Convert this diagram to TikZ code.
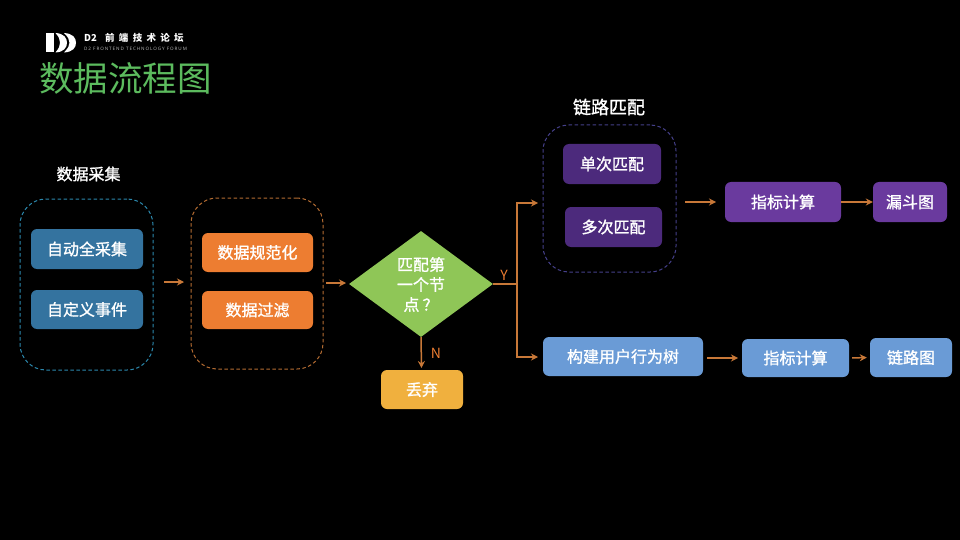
\documentclass[tikz,border=0pt]{standalone}
\usepackage{fontspec}
\setmainfont{Noto Sans CJK SC}
\newfontfamily\boxfont[FakeBold=1.2]{Noto Sans CJK SC}
\newfontfamily\logofont[LetterSpace=45]{Noto Sans CJK SC}
\newfontfamily\subfont[LetterSpace=20]{Noto Sans}
\usepackage{tikz}
\usetikzlibrary{shapes.geometric, arrows.meta}
\definecolor{flowline}{HTML}{C87838}
\definecolor{titlegreen}{HTML}{5CBB5E}
\definecolor{boxteal}{HTML}{34739F}
\definecolor{boxorange}{HTML}{ED7D31}
\definecolor{boxgreen}{HTML}{8FC657}
\definecolor{boxyellow}{HTML}{F0B03E}
\definecolor{boxblue}{HTML}{6A9BD6}
\definecolor{boxviolet}{HTML}{6A3A9E}
\definecolor{boxdark}{HTML}{4C2A7C}
\definecolor{groupviolet}{HTML}{45408A}
\tikzset{
	box/.style = {rounded corners = 6pt, text = white, font = \fontsize{16}{16}\boxfont, inner sep = 0pt},
	group/.style = {draw, line width = 1pt, rounded corners = 26pt, dash pattern = on 3.5pt off 2.5pt, inner sep = 0pt},
	flow/.style = {draw = flowline, line width = 1.5pt, -{Stealth[length = 7pt, width = 7pt]}},
	trunk/.style = {draw = flowline, line width = 1.5pt},
	caption/.style = {text = white, font = \fontsize{16}{16}\boxfont, inner sep = 0pt},
	letter/.style = {text = boxorange, inner sep = 0pt, font = \fontsize{14}{14}\selectfont}
}
\begin{document}
\begin{tikzpicture}[x = 1pt, y = -1pt]
	\fill[black] (0,0) rectangle (960,540);
	\useasboundingbox (0,0) rectangle (960,540);

	% logo
	\fill[white] (46,33) rectangle (54,52.5);
	\fill[white] (55.5,33) .. controls (64,33.5) and (67,38) .. (67,42.7) .. controls (67,47.5) and (64,52) .. (55.5,52.5) .. controls (59,48) and (60,46) .. (60,42.7) .. controls (60,39.5) and (59,37) .. (55.5,33) -- cycle;
	\fill[white] (64,33) .. controls (73,33.5) and (76,38) .. (76,42.7) .. controls (76,47.5) and (73,52) .. (64,52.5) .. controls (68,48) and (69.5,46) .. (69.5,42.7) .. controls (69.5,39.5) and (68,37) .. (64,33) -- cycle;
	\node[text = white, anchor = west, inner sep = 0pt, font = \fontsize{9.5}{10}\selectfont\bfseries] (logoname) at (84,37.5) {D2};
	\node[text = white, anchor = west, inner sep = 0pt, font = \fontsize{9.5}{10}\logofont\bfseries] (logotext) at (105,37.5) {前端技术论坛};
	\node[text = white!70!black, anchor = west, inner sep = 0pt, font = \fontsize{4.6}{5}\subfont] (logosub) at (84,48.5) {D2 FRONTEND TECHNOLOGY FORUM};

	\node[text = titlegreen, anchor = west, inner sep = 0pt, font = \fontsize{34.5}{36}\selectfont] (title) at (39,78) {数据流程图};

	% groups
	\node[group, draw = boxteal!85!cyan, minimum width = 133pt, minimum height = 171pt] (collect) at (86.5,284.5) {};
	\node[group, draw = flowline!90!black, minimum width = 132pt, minimum height = 171pt] (clean) at (257,283.5) {};
	\node[group, draw = groupviolet, minimum width = 133pt, minimum height = 147pt] (match) at (609.5,198.5) {};
	\node[caption] (collecttitle) at (88.5,174) {数据采集};
	\node[caption, font = \fontsize{18}{18}\boxfont] (matchtitle) at (609,107) {链路匹配};

	\node[box, fill = boxteal, minimum width = 112pt, minimum height = 40pt] (auto) at (87,249) {自动全采集};
	\node[box, fill = boxteal, minimum width = 112pt, minimum height = 39pt] (custom) at (87,309.5) {自定义事件};

	\node[box, fill = boxorange, minimum width = 111pt, minimum height = 39pt] (normal) at (257.5,252.5) {数据规范化};
	\node[box, fill = boxorange, minimum width = 111pt, minimum height = 38pt] (filter) at (257.5,310) {数据过滤};

	\node[diamond, fill = boxgreen, minimum width = 144pt, minimum height = 106pt, inner sep = 0pt, aspect = 1.36] (first) at (421,284) {};
	\node[caption, align = center, font = \fontsize{16}{20}\boxfont] (firsttext) at (421,284.5) {匹配第\\一个节\\点\hspace{3pt}？};
	\node[box, fill = boxyellow, minimum width = 82pt, minimum height = 39pt] (drop) at (422,389.5) {丢弃};

	\node[box, fill = boxdark, minimum width = 98pt, minimum height = 40pt] (single) at (612,164) {单次匹配};
	\node[box, fill = boxdark, minimum width = 97pt, minimum height = 40pt] (multi) at (613.5,227) {多次匹配};
	\node[box, fill = boxviolet, minimum width = 116pt, minimum height = 40pt] (calcfunnel) at (783,202) {指标计算};
	\node[box, fill = boxviolet, minimum width = 74pt, minimum height = 40pt] (funnel) at (910,202) {漏斗图};

	\node[box, fill = boxblue, minimum width = 160pt, minimum height = 39pt] (tree) at (623,356.5) {构建用户行为树};
	\node[box, fill = boxblue, minimum width = 107pt, minimum height = 38pt] (calcpath) at (795.5,358) {指标计算};
	\node[box, fill = boxblue, minimum width = 82pt, minimum height = 39pt] (path) at (911,357.5) {链路图};

	% free ends of the arrows
	\coordinate (fork) at (517,284);
	\coordinate (collectout) at (164,282);
	\coordinate (cleanin) at (184,282);
	\coordinate (cleanout) at (326,283);
	\coordinate (firstin) at (346,283);
	\coordinate (matchin) at (538,203);
	\coordinate (treein) at (538,357);
	\coordinate (matchout) at (685,202);
	\coordinate (calcin) at (716,202);
	\coordinate (treeout) at (707,358);
	\coordinate (pathin) at (738,358);
	\coordinate (dropin) at (421.5,368);

	% connectors
	\draw[flow] (collectout) -- (cleanin);
	\draw[flow] (cleanout) -- (firstin);
	\draw[trunk] (first.east) -- (fork);
	\draw[flow] (fork) |- (matchin);
	\draw[flow] (fork) |- (treein);
	\draw[flow] (first.south) -- (dropin);
	\node[letter] (nolabel) at (436,353) {N};
	\node[letter] (yeslabel) at (504,275) {Y};
	\draw[flow] (matchout) -- (calcin);
	\draw[flow] (calcfunnel.east) -- (funnel.west);
	\draw[flow] (treeout) -- (pathin);
	\draw[flow, shorten < = 3pt, shorten > = 3pt] (calcpath.east) -- (path.west);
\end{tikzpicture}
\end{document}
